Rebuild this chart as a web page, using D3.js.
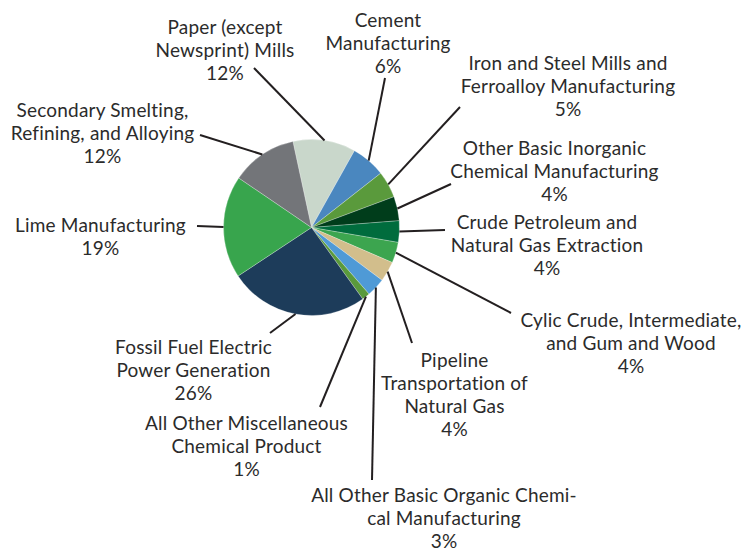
<!DOCTYPE html>
<html>
<head>
<meta charset="utf-8">
<script src="https://cdn.jsdelivr.net/npm/d3@7"></script>
<style>
  body { margin: 0; background: #ffffff; }
  svg text { font-family: Lato, "Open Sans", sans-serif; }
</style>
</head>
<body>
<div id="chart"></div>
<script>
// Industries, in drawing order (clockwise, starting with Paper)
var industries = [
  "Paper (except Newsprint) Mills",
  "Cement Manufacturing",
  "Iron and Steel Mills and Ferroalloy Manufacturing",
  "Other Basic Inorganic Chemical Manufacturing",
  "Crude Petroleum and Natural Gas Extraction",
  "Cylic Crude, Intermediate, and Gum and Wood",
  "Pipeline Transportation of Natural Gas",
  "All Other Basic Organic Chemical Manufacturing",
  "All Other Miscellaneous Chemical Product",
  "Fossil Fuel Electric Power Generation",
  "Lime Manufacturing",
  "Secondary Smelting, Refining, and Alloying"
];
// share of total (percent)
var shares = [11.5, 6.3, 4.9, 4.45, 3.95, 3.8, 3.7, 3.45, 1.45, 25.6, 18.8, 12.1];
// label text broken the way the reference wraps it
var labelLines = [
  ["Paper (except", "Newsprint) Mills"],
  ["Cement", "Manufacturing"],
  ["Iron and Steel Mills and", "Ferroalloy Manufacturing"],
  ["Other Basic Inorganic", "Chemical Manufacturing"],
  ["Crude Petroleum and", "Natural Gas Extraction"],
  ["Cylic Crude, Intermediate,", "and Gum and Wood"],
  ["Pipeline", "Transportation of", "Natural Gas"],
  ["All Other Basic Organic Chemi-", "cal Manufacturing"],
  ["All Other Miscellaneous", "Chemical Product"],
  ["Fossil Fuel Electric", "Power Generation"],
  ["Lime Manufacturing"],
  ["Secondary Smelting,", "Refining, and Alloying"]
];
var colors = ["#c9d7cb", "#4a87bf", "#5a9a3c", "#003d1b", "#006c3d", "#3ca54f",
              "#d2be8c", "#4f9ad6", "#5a9a3c", "#1d3c5a", "#38a54d", "#737579"];

// label placement: text centre x, first baseline y, and where the leader line ends
var labelLayout = [
  {x: 225,   y: 34,  lx: 254, ly: 68},
  {x: 388,   y: 27,  lx: 385, ly: 78},
  {x: 568,   y: 70,  lx: 460, ly: 107},
  {x: 554.5, y: 155, lx: 451, ly: 184},
  {x: 547,   y: 228.5, lx: 445, ly: 230},
  {x: 631,   y: 327, lx: 511, ly: 313},
  {x: 454.5, y: 367, lx: 412, ly: 343},
  {x: 444,   y: 502, lx: 372, ly: 480},
  {x: 246.5, y: 430, lx: 320, ly: 407},
  {x: 193.5, y: 354, lx: 270, ly: 333},
  {x: 100.5, y: 232, lx: 197, ly: 226},
  {x: 102.5, y: 117, lx: 200, ly: 135}
];

var width = 742, height = 550;
var cx = 311.5, cy = 227.5, radius = 88;
var lineHeight = 23;
var startDeg = -12.2;

var svg = d3.select("#chart").append("svg")
  .attr("width", width)
  .attr("height", height);

var data = industries.map(function(name, i) {
  return {name: name, value: shares[i], color: colors[i], lines: labelLines[i], pos: labelLayout[i]};
});

var pie = d3.pie()
  .sort(null)
  .value(function(d) { return d.value; })
  .startAngle(startDeg * Math.PI / 180)
  .endAngle(startDeg * Math.PI / 180 + 2 * Math.PI);

var arc = d3.arc().innerRadius(0).outerRadius(radius);

var arcs = pie(data);

var g = svg.append("g").attr("transform", "translate(" + cx + "," + cy + ")");

g.selectAll("path")
  .data(arcs)
  .enter().append("path")
  .attr("d", arc)
  .attr("fill", function(d) { return d.data.color; })
  .attr("stroke", "#ffffff")
  .attr("stroke-opacity", 0.5)
  .attr("stroke-width", 0.5);

//leader lines from the slice edge (mid angle) to the label
svg.append("g").selectAll("line")
  .data(arcs)
  .enter().append("line")
  .attr("x1", function(d) { var a = (d.startAngle + d.endAngle) / 2; return cx + radius * Math.sin(a); })
  .attr("y1", function(d) { var a = (d.startAngle + d.endAngle) / 2; return cy - radius * Math.cos(a); })
  .attr("x2", function(d) { return d.data.pos.lx; })
  .attr("y2", function(d) { return d.data.pos.ly; })
  .attr("stroke", "#231f20")
  .attr("stroke-width", 2);

//labels
var labels = svg.append("g").selectAll("text")
  .data(arcs)
  .enter().append("text")
  .attr("text-anchor", "middle")
  .attr("font-size", "19px")
  .attr("letter-spacing", "0.2px")
  .attr("fill", "#2b2b2b");

labels.each(function(d) {
  var t = d3.select(this);
  var rows = d.data.lines.concat([Math.round(d.data.value) + "%"]);
  rows.forEach(function(row, i) {
    t.append("tspan")
      .attr("x", d.data.pos.x)
      .attr("y", d.data.pos.y + i * lineHeight)
      .text(row);
  });
});
</script>
</body>
</html>
